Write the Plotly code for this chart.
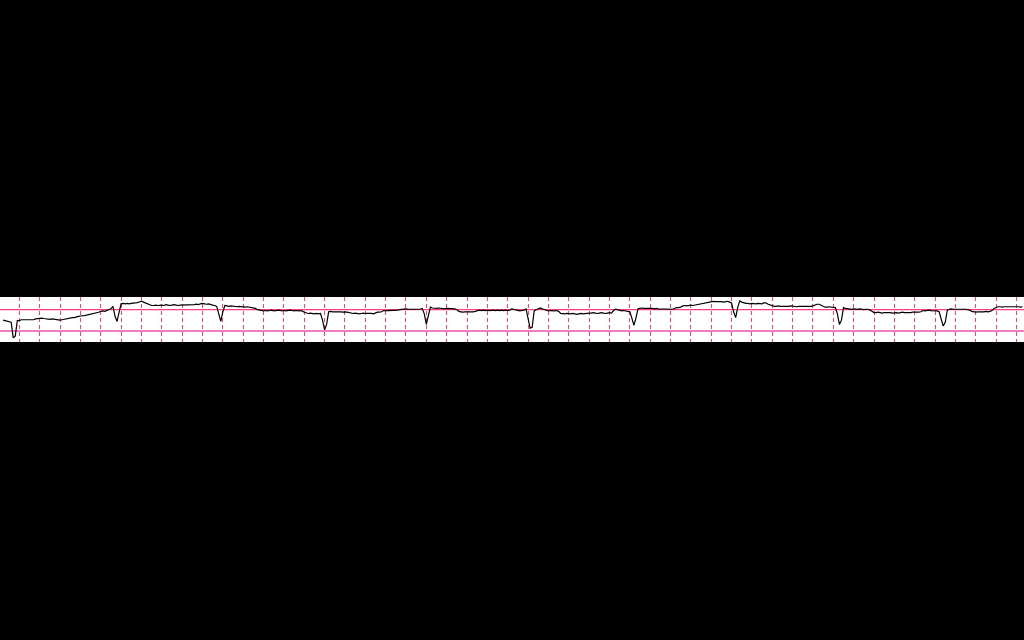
import numpy as np
import plotly.graph_objects as go

fs = 50.0
t_start = 0.04
v_mv = [
    0.25, 0.24, 0.23, 0.22, 0.20, -0.17, -0.13, 0.24,
    0.24, 0.26, 0.26, 0.27, 0.26, 0.27, 0.27, 0.26, 0.28, 0.29,
    0.30, 0.30, 0.29, 0.28, 0.28, 0.27, 0.28, 0.27, 0.26, 0.25,
    0.25, 0.26, 0.27, 0.29, 0.30, 0.30, 0.31, 0.31, 0.33, 0.34,
    0.35, 0.35, 0.36, 0.37, 0.38, 0.39, 0.41, 0.42, 0.43, 0.44,
    0.46, 0.47, 0.46, 0.48, 0.50, 0.52, 0.58, 0.35, 0.22, 0.45,
    0.64, 0.65, 0.64, 0.65, 0.64, 0.65, 0.65, 0.66, 0.67, 0.69,
    0.70, 0.68, 0.66, 0.63, 0.61, 0.60, 0.60, 0.61, 0.60, 0.61,
    0.61, 0.60, 0.62, 0.61, 0.60, 0.61, 0.62, 0.61, 0.60, 0.61,
    0.61, 0.62, 0.61, 0.62, 0.61, 0.62, 0.62, 0.63, 0.62, 0.64,
    0.65, 0.64, 0.63, 0.64, 0.62, 0.61, 0.60, 0.58, 0.40, 0.22,
    0.45, 0.60, 0.59, 0.58, 0.59, 0.58, 0.58, 0.57, 0.58, 0.57,
    0.57, 0.56, 0.57, 0.56, 0.55, 0.55, 0.53, 0.50, 0.49, 0.48,
    0.47, 0.48, 0.47, 0.48, 0.49, 0.47, 0.48, 0.48, 0.49, 0.47,
    0.48, 0.47, 0.48, 0.49, 0.48, 0.47, 0.48, 0.48, 0.47, 0.47,
    0.44, 0.42, 0.41, 0.42, 0.41, 0.40, 0.41, 0.40, 0.41, 0.25,
    0.02, 0.15, 0.45, 0.46, 0.45, 0.45, 0.46, 0.45, 0.45, 0.44,
    0.45, 0.44, 0.43, 0.41, 0.41, 0.42, 0.41, 0.40, 0.41, 0.42,
    0.41, 0.41, 0.42, 0.41, 0.40, 0.42, 0.44, 0.44, 0.45, 0.48,
    0.47, 0.48, 0.48, 0.49, 0.48, 0.48, 0.49, 0.50, 0.51, 0.51,
    0.52, 0.51, 0.51, 0.52, 0.51, 0.51, 0.52, 0.51, 0.53, 0.40,
    0.15, 0.35, 0.56, 0.54, 0.53, 0.53, 0.54, 0.53, 0.53, 0.52,
    0.53, 0.53, 0.52, 0.53, 0.52, 0.50, 0.46, 0.45, 0.44, 0.45,
    0.45, 0.44, 0.45, 0.45, 0.46, 0.48, 0.49, 0.48, 0.49, 0.48,
    0.49, 0.48, 0.49, 0.49, 0.48, 0.49, 0.48, 0.49, 0.48, 0.49,
    0.48, 0.49, 0.52, 0.51, 0.49, 0.48, 0.47, 0.48, 0.49, 0.52,
    0.30, 0.06, 0.08, 0.47, 0.50, 0.53, 0.54, 0.52, 0.50, 0.48,
    0.47, 0.48, 0.47, 0.47, 0.48, 0.46, 0.41, 0.40, 0.40, 0.41,
    0.40, 0.40, 0.41, 0.40, 0.39, 0.40, 0.41, 0.40, 0.41, 0.41,
    0.42, 0.42, 0.43, 0.42, 0.41, 0.42, 0.43, 0.42, 0.41, 0.42,
    0.43, 0.42, 0.48, 0.51, 0.50, 0.48, 0.47, 0.48, 0.47, 0.47,
    0.45, 0.30, 0.13, 0.30, 0.52, 0.53, 0.54, 0.53, 0.53, 0.54,
    0.53, 0.53, 0.52, 0.53, 0.52, 0.52, 0.51, 0.52, 0.51, 0.51,
    0.52, 0.51, 0.53, 0.55, 0.55, 0.56, 0.59, 0.60, 0.59, 0.60,
    0.61, 0.60, 0.61, 0.62, 0.62, 0.64, 0.64, 0.65, 0.66, 0.67,
    0.69, 0.70, 0.69, 0.69, 0.70, 0.69, 0.68, 0.69, 0.70, 0.68,
    0.66, 0.45, 0.31, 0.55, 0.71, 0.68, 0.66, 0.65, 0.65, 0.64,
    0.65, 0.64, 0.64, 0.65, 0.64, 0.64, 0.67, 0.66, 0.63, 0.61,
    0.59, 0.58, 0.58, 0.59, 0.58, 0.58, 0.57, 0.58, 0.58, 0.59,
    0.58, 0.58, 0.57, 0.58, 0.58, 0.57, 0.58, 0.58, 0.57, 0.58,
    0.59, 0.61, 0.63, 0.63, 0.60, 0.57, 0.56, 0.56, 0.57, 0.56,
    0.56, 0.55, 0.40, 0.15, 0.25, 0.55, 0.53, 0.52, 0.51, 0.51,
    0.52, 0.51, 0.51, 0.52, 0.51, 0.50, 0.51, 0.51, 0.49, 0.46,
    0.43, 0.43, 0.44, 0.43, 0.42, 0.43, 0.43, 0.44, 0.43, 0.42,
    0.43, 0.43, 0.42, 0.43, 0.44, 0.43, 0.43, 0.42, 0.43, 0.44,
    0.44, 0.43, 0.44, 0.45, 0.48, 0.47, 0.48, 0.49, 0.48, 0.48,
    0.47, 0.47, 0.45, 0.25, 0.11, 0.20, 0.49, 0.51, 0.52, 0.51,
    0.51, 0.52, 0.51, 0.51, 0.52, 0.51, 0.50, 0.49, 0.46, 0.45,
    0.44, 0.45, 0.45, 0.44, 0.45, 0.46, 0.45, 0.46, 0.48, 0.53,
    0.56, 0.57, 0.57, 0.56, 0.57, 0.57, 0.58, 0.57, 0.57, 0.57,
    0.57, 0.57, 0.56, 0.57,
]

x_range = [0.01, 10.074]
y_range = [-0.269, 0.802]
baseline_mv = 0.0      # lighter, thicker reference line
grid_mv = [0.5]        # solid major grid line(s)

t_s = t_start + np.arange(len(v_mv)) / fs

fig = go.Figure()
fig.add_trace(go.Scatter(
    x=t_s, y=v_mv, mode="lines",
    line=dict(color="black", width=1.2),
    showlegend=False, hoverinfo="skip",
))

for g in grid_mv:
    fig.add_hline(y=g, line=dict(color="#ff3d7f", width=1.2), layer="below")

fig.update_layout(
    width=1024, height=640,
    margin=dict(l=0, r=0, t=297, b=298, pad=0),
    paper_bgcolor="black",
    plot_bgcolor="white",
    showlegend=False,
)
fig.update_xaxes(
    range=x_range, tick0=0, dtick=0.2,
    showgrid=True, gridcolor="#ff3d7f", gridwidth=1, griddash="4px,3px",
    showticklabels=False, ticks="", zeroline=False, showline=False,
)
fig.update_yaxes(
    range=y_range, tickmode="array", tickvals=[baseline_mv] + grid_mv,
    showgrid=True, gridcolor="#ff3d7f", gridwidth=1.2,
    zeroline=True, zerolinecolor="#f07cc6", zerolinewidth=2,
    showticklabels=False, ticks="", showline=False,
)

fig.write_html("out.html")
